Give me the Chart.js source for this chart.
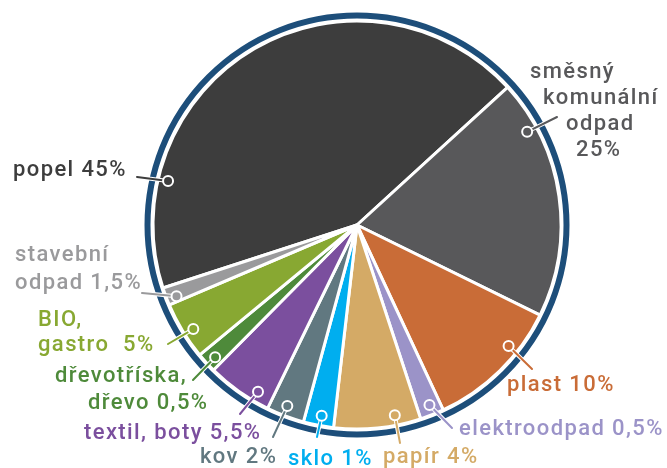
<!DOCTYPE html>
<html>
<head>
<meta charset="utf-8">
<script src="https://cdn.jsdelivr.net/npm/chart.js@4"></script>
<style>
  html, body { margin: 0; padding: 0; background: #fff; }
  #wrap { width: 667px; height: 468px; }
</style>
</head>
<body>
<div id="wrap"><canvas id="wasteChart" width="667" height="468"></canvas></div>
<script>
// categories in drawing order (clockwise, starting with popel)
const categories = ["popel", "směsný komunální odpad", "plast", "elektroodpad", "papír", "sklo",
                    "kov", "textil, boty", "dřevotříska, dřevo", "BIO, gastro", "stavební odpad"];
// slice sizes as drawn in the picture (share of the circle, %)
const sliceShares = [43.3, 19.1, 10.8, 1.9, 6.9, 2.4, 3.0, 5.2, 1.6, 4.6, 1.4];
// label texts as printed
const labelLines = [
    ["popel 45%"],
    ["směsný", "komunální", "odpad", "25%"],
    ["plast 10%"],
    ["elektroodpad 0,5%"],
    ["papír 4%"],
    ["sklo 1%"],
    ["kov 2%"],
    ["textil, boty 5,5%"],
    ["dřevotříska,", "dřevo 0,5%"],
    ["BIO,", "gastro  5%"],
    ["stavební", "odpad 1,5%"]
];
const sliceColors = ["#3d3d3d", "#58585a", "#c96c37", "#9b93c8", "#d4aa66", "#00aeef",
                     "#617880", "#7b4f9e", "#4e8a3a", "#88a832", "#9a9a9c"];

// where along each slice the leader dot sits (0..1 of the slice angle)
const anchorFrac = [0.2, 0.2, 0.32, 0.45, 0.28, 0.45, 0.54, 0.25, 0.4, 0.43, 0.3];
// label layout: line end point, text x and text line y's
const labelPos = [
    { lx: 137, ly: 177, tx: [13], ty: [170] },
    { lx: 557, ly: 117, tx: [530, 543, 566, 576], ty: [72, 98, 124, 150] },
    { lx: 532, ly: 369, tx: [507], ty: [385] },
    { lx: 452, ly: 428, tx: [459], ty: [429] },
    { lx: 400, ly: 443, tx: [383], ty: [457] },
    { lx: 317, ly: 437, tx: [288], ty: [459] },
    { lx: 273, ly: 437, tx: [200], ty: [457] },
    { lx: 240, ly: 414, tx: [84], ty: [433] },
    { lx: 193, ly: 380, tx: [55, 88], ty: [376, 403] },
    { lx: 168, ly: 344, tx: [38, 38], ty: [320, 345] },
    { lx: 142, ly: 293, tx: [15, 15], ty: [255, 283] }
];

const ringAndLabels = {
    id: "ringAndLabels",
    afterDatasetsDraw(chart) {
        const ctx = chart.ctx;
        const arcs = chart.getDatasetMeta(0).data;
        const first = arcs[0];
        const cx = first.x, cy = first.y, r = first.outerRadius;

        // blue ring round the pie
        ctx.save();
        ctx.beginPath();
        ctx.arc(cx, cy, r + 5.5, 0, Math.PI * 2);
        ctx.lineWidth = 6;
        ctx.strokeStyle = "#1d4e7a";
        ctx.stroke();

        ctx.font = "500 22px Roboto";
        ctx.letterSpacing = "1.4px";
        ctx.textBaseline = "middle";
        ctx.textAlign = "left";

        arcs.forEach((arc, i) => {
            const a = arc.startAngle + anchorFrac[i] * (arc.endAngle - arc.startAngle);
            const ax = cx + Math.cos(a) * (arc.outerRadius - 10);
            const ay = cy + Math.sin(a) * (arc.outerRadius - 10);
            const p = labelPos[i];
            const col = sliceColors[i];

            // leader line with white outline
            ctx.lineCap = "round";
            ctx.beginPath();
            ctx.moveTo(p.lx, p.ly);
            ctx.lineTo(ax, ay);
            ctx.strokeStyle = "#ffffff";
            ctx.lineWidth = 4;
            ctx.stroke();
            ctx.strokeStyle = col;
            ctx.lineWidth = 2;
            ctx.stroke();

            // dot
            ctx.beginPath();
            ctx.arc(ax, ay, 5, 0, Math.PI * 2);
            ctx.fillStyle = col;
            ctx.fill();
            ctx.lineWidth = 2;
            ctx.strokeStyle = "#ffffff";
            ctx.stroke();

            ctx.fillStyle = col;
            labelLines[i].forEach((t, k) => ctx.fillText(t, p.tx[k], p.ty[k]));
        });
        ctx.restore();
    }
};

new Chart(document.getElementById("wasteChart"), {
    type: "pie",
    data: {
        labels: categories,
        datasets: [{
            data: sliceShares,
            backgroundColor: sliceColors,
            borderColor: "#ffffff",
            borderWidth: 3,
            radius: 204
        }]
    },
    options: {
        responsive: false,
        animation: false,
        rotation: 252,
        layout: { padding: { left: 47, right: 0, top: 0, bottom: 18 } },
        plugins: { legend: { display: false }, tooltip: { enabled: false } }
    },
    plugins: [ringAndLabels]
});
</script>
</body>
</html>
